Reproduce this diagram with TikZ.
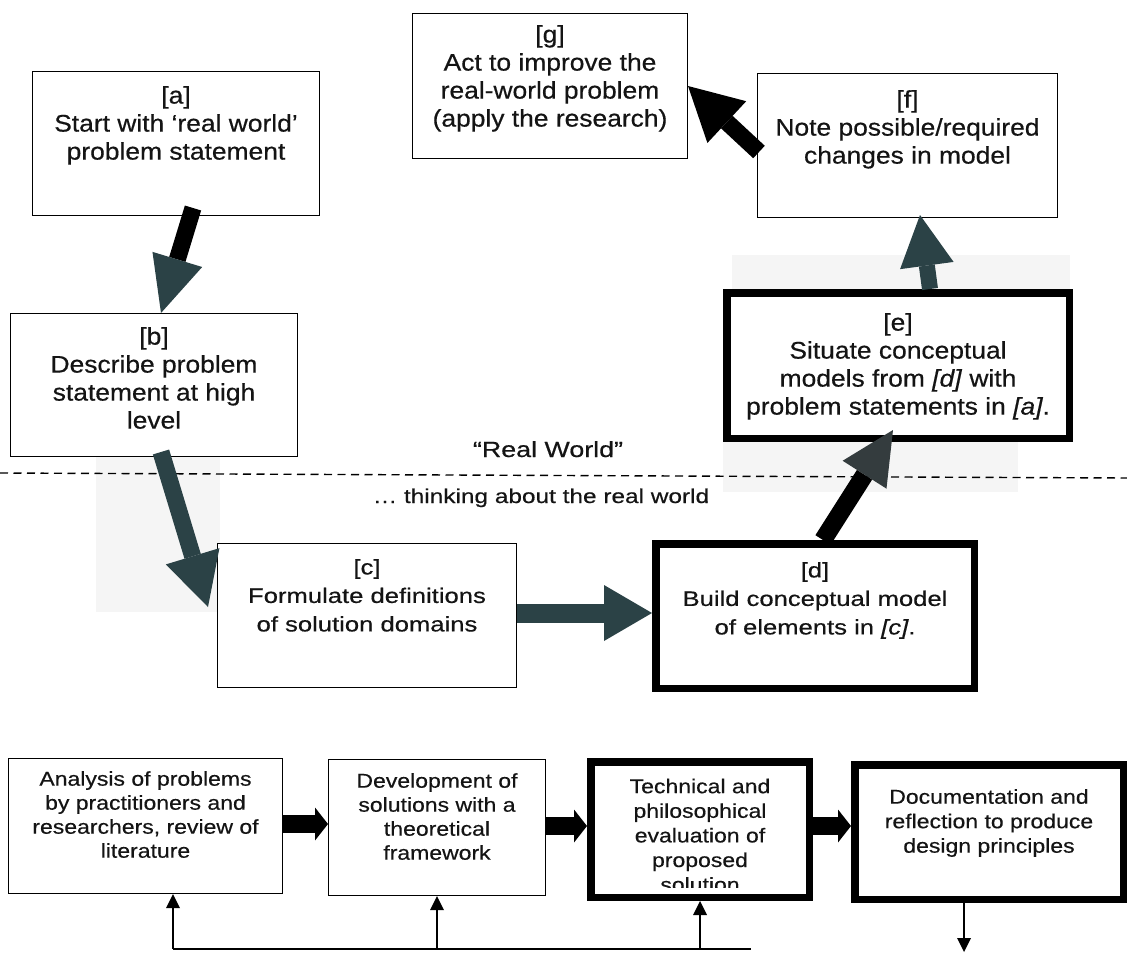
\documentclass[tikz,border=0pt]{standalone}
\usepackage{fontspec}
\setmainfont{Liberation Sans}
\newfontfamily\topf[FakeStretch=1.1,FakeBold=0.5]{Liberation Sans}
\newfontfamily\midf[FakeStretch=1.22,FakeBold=0.5]{Liberation Sans}
\newfontfamily\botf[FakeStretch=1.15,FakeBold=0.4]{Liberation Sans}
\usetikzlibrary{arrows.meta,calc}
\definecolor{slate}{RGB}{43,66,70}
\definecolor{slatehead}{RGB}{52,60,62}
\definecolor{txt}{RGB}{20,20,20}
\begin{document}
\begin{tikzpicture}[x=1pt,y=-1pt,
  thinbox/.style={draw=black,line width=1.3pt,fill=white,inner sep=0pt,rectangle},
  thickbox/.style={draw=black,line width=7.5pt,fill=white,inner sep=0pt,rectangle},
  toptext/.style={text=txt,font=\topf\fontsize{24}{28}\selectfont,align=center,anchor=north,inner sep=0pt},
  midtext/.style={text=txt,font=\midf\fontsize{21}{28.5}\selectfont,align=center,anchor=north,inner sep=0pt},
  bottext/.style={text=txt,font=\botf\fontsize{20}{24}\selectfont,align=center,anchor=north,inner sep=0pt},
  flowarrow/.style={draw=black,line width=18pt,-{Triangle[length=13pt,width=33pt,line width=0pt]}},
  fbline/.style={draw=black,line width=1.2pt},
  fbarrow/.style={draw=black,line width=1.2pt,-{Triangle[length=14pt,width=14pt,line width=0pt]}},
  bg/.style={fill=black!4}
]
\useasboundingbox (0,0) rectangle (1127,953);

% faint scan patches
\fill[bg] (96,457) rectangle (220,612);
\fill[bg] (732,255) rectangle (1070,290);
\fill[bg] (723,442) rectangle (1018,492);

% dashed separator
\coordinate (dl) at (0,473);
\coordinate (dr) at (1127,478);
\draw[line width=1.4pt,dash pattern=on 8pt off 5.5pt] (dl) -- (dr);

% boxes
\node[thinbox,minimum width=286.7pt,minimum height=143.7pt] (a) at (176,143.5) {};
\node[thinbox,minimum width=286.7pt,minimum height=142.7pt] (b) at (154,385) {};
\node[thinbox,minimum width=274.7pt,minimum height=144.7pt] (g) at (550,86) {};
\node[thinbox,minimum width=299.7pt,minimum height=143.7pt] (f) at (907.5,145.5) {};
\node[thickbox,minimum width=342.5pt,minimum height=145.5pt] (e) at (898,365.5) {};
\node[thinbox,minimum width=298.7pt,minimum height=143.7pt] (c) at (367,615.5) {};
\node[thickbox,minimum width=318.5pt,minimum height=144.5pt] (d) at (815,616) {};

\node[thinbox,minimum width=273.7pt,minimum height=134.7pt] (p1) at (145.5,826) {};
\node[thinbox,minimum width=216.7pt,minimum height=135.7pt] (p2) at (437,827.5) {};
\node[thickbox,minimum width=218.5pt,minimum height=135.5pt] (p3) at (700,829.5) {};
\node[thickbox,minimum width=268.5pt,minimum height=134.5pt] (p4) at (989,832) {};

% texts
\node[toptext] (ta) at (176,86) {[a]\\Start with ‘real world’\\problem statement};
\node[toptext] (tb) at (154,327) {[b]\\Describe problem\\statement at high\\level};
\node[toptext] (tg) at (550,25) {[g]\\Act to improve the\\real-world problem\\(apply the research)};
\node[toptext] (tf) at (907.5,90) {[f]\\Note possible/required\\changes in model};
\node[toptext] (te) at (898,313) {[e]\\Situate conceptual\\models from \textit{[d]} with\\problem statements in \textit{[a]}.};
\node[midtext] (tc) at (367,559) {[c]\\Formulate definitions\\of solution domains};
\node[midtext] (td) at (815,562) {[d]\\Build conceptual model\\of elements in \textit{[c]}.};

\node[text=txt,font=\midf\fontsize{22}{26}\selectfont,anchor=base,inner sep=0pt] (rw) at (548,457) {“Real World”};
\node[text=txt,font=\midf\fontsize{20}{24}\selectfont,anchor=base,inner sep=0pt] (tw) at (541,503) {… thinking about the real world};

\node[bottext] (t1) at (145.5,771) {Analysis of problems\\by practitioners and\\researchers, review of\\literature};
\node[bottext] (t2) at (437,773) {Development of\\solutions with a\\theoretical\\framework};
\begin{scope}
\clip (590,762) rectangle (810,887);
\node[bottext,font=\botf\fontsize{20}{24.6}\selectfont] (t3) at (700,778.5) {Technical and\\philosophical\\evaluation of\\proposed\\solution};
\end{scope}
\node[bottext,font=\botf\fontsize{20}{24.5}\selectfont] (t4) at (989,789) {Documentation and\\reflection to produce\\design principles};

% block arrows (top diagram)
\draw[draw=black,line width=17pt,-{Triangle[length=56pt,width=52pt,line width=0pt,color=slate]}]
  ($(a.south)+(17,-8)$) -- ($(b.north)+(7,0)$);
\draw[draw=slate,line width=17pt,-{Triangle[length=53pt,width=56pt,line width=0pt,color=slate]}]
  ($(b.south)+(7,-5)$) -- ($(c.west)+(-9,-8.5)$);
\draw[draw=slate,line width=19pt,-{Triangle[length=48pt,width=56pt,line width=0pt,color=slate]}]
  ($(c.east)+(0,-2.5)$) -- ($(d.west)+(0,-3)$);
\draw[draw=black,line width=18pt,-{Triangle[length=53pt,width=52pt,line width=0pt,color=slatehead]}]
  ($(d.north)+(8,0)$) -- ($(e.south)+(-5,-12)$);
\draw[draw=slate,line width=16pt,-{Triangle[length=51pt,width=54pt,line width=0pt,color=slate]}]
  ($(e.north)+(32,0)$) -- ($(f.south)+(12.5,-3)$);
\draw[draw=black,line width=17pt,-{Triangle[length=53pt,width=57pt,line width=0pt,color=black]}]
  ($(f.west)+(2,6.5)$) -- (g.east);

% bottom flow arrows
\coordinate (ya) at (0,824);
\coordinate (yb) at (0,826);
\draw[flowarrow] (p1.east |- ya) -- (p2.west |- ya);
\draw[flowarrow] (p2.east |- yb) -- (p3.west |- yb);
\draw[flowarrow] (p3.east |- yb) -- (p4.west |- yb);

% feedback arrows
\coordinate (fb1) at (173,949);
\coordinate (fb2) at (437,949);
\coordinate (fb3) at (700,949);
\coordinate (fbe) at (751,949);
\coordinate (dn) at (964,952);
\draw[fbline,line width=2pt] (fb1) -- (fbe);
\draw[fbarrow,line width=2pt] (fb1) -- (fb1 |- p1.south);
\draw[fbarrow] (fb2) -- (fb2 |- p2.south);
\draw[fbarrow] (fb3) -- (fb3 |- p3.south);
\draw[fbarrow] (p4.south -| dn) -- (dn);
\end{tikzpicture}
\end{document}
